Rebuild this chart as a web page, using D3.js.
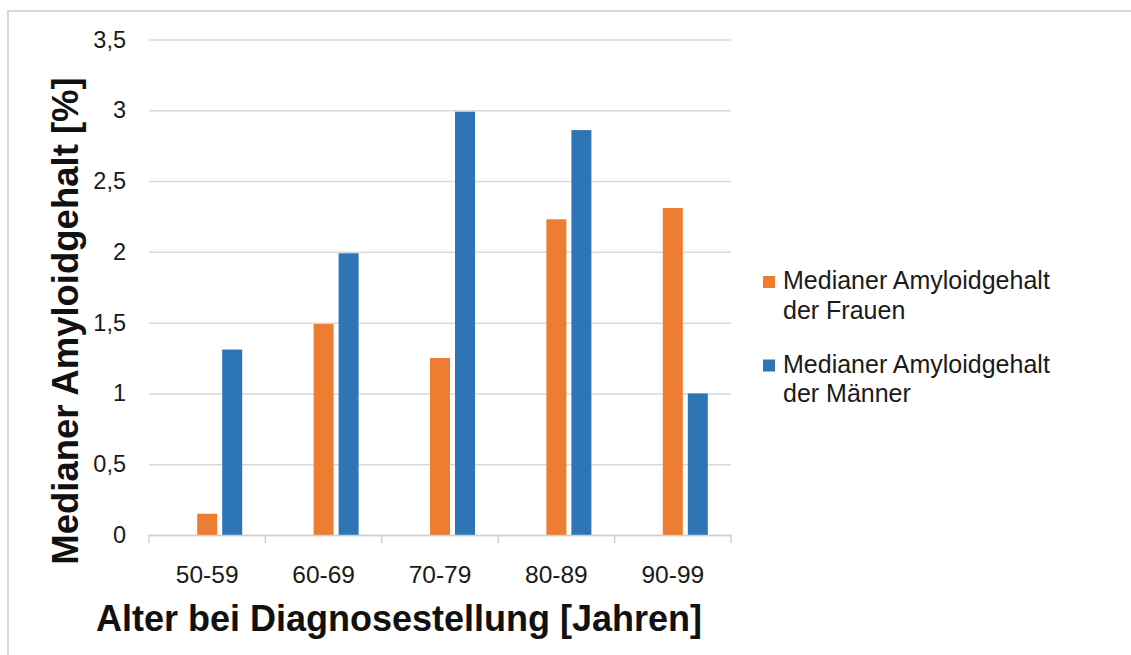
<!DOCTYPE html>
<html>
<head>
<meta charset="utf-8">
<script src="https://cdn.jsdelivr.net/npm/d3@7"></script>
<style>
  html, body { margin: 0; padding: 0; background: #fff; }
  svg { display: block; font-family: "Liberation Sans", Arial, sans-serif; }
</style>
</head>
<body>
<svg id="chart" width="1131" height="655"></svg>
<script>
// ---- data ----
const categories = ["50-59", "60-69", "70-79", "80-89", "90-99"];
const frauen = [0.15, 1.49, 1.25, 2.23, 2.31];
const maenner = [1.31, 1.99, 2.99, 2.86, 1.00];
const seriesKeys = ["", "Frauen", "Männer"]; // first slot is an empty series in the original
const seriesNames = ["Medianer Amyloidgehalt der Frauen", "Medianer Amyloidgehalt der Männer"];
const yTicks = [0, 0.5, 1, 1.5, 2, 2.5, 3, 3.5];
const xTitle = "Alter bei Diagnosestellung [Jahren]";
const yTitle = "Medianer Amyloidgehalt [%]";

(function () {
const colors = { "Frauen": "#ED7D31", "Männer": "#2E75B6" };
const svg = d3.select("#chart");

// outer frame (only top and left edges visible)
svg.append("path").attr("d", "M8,655 L8,11 L1131,11")
  .attr("fill", "none").attr("stroke", "#d9d9d9").attr("stroke-width", 2);

const pLeft = 149, pRight = 731, pBottom = 535, pTop = 39.5;

const x0 = d3.scaleBand().domain(categories).range([pLeft, pRight]).padding(0);
const half = 35;
const x1 = d3.scaleBand().domain(seriesKeys)
  .range([x0.bandwidth() / 2 - half, x0.bandwidth() / 2 + half])
  .paddingInner(0.2).paddingOuter(0);
const y = d3.scaleLinear().domain([0, 3.5]).range([pBottom, pTop]);

// gridlines + y labels
const yAxis = svg.append("g").attr("transform", `translate(${pLeft},0)`)
  .call(d3.axisLeft(y).tickValues(yTicks).tickSize(-(pRight - pLeft)).tickPadding(23)
    .tickFormat(d => String(d).replace(".", ",")));
yAxis.select(".domain").remove();
yAxis.selectAll(".tick line").attr("stroke", "#d9d9d9").attr("stroke-width", 1.5);
yAxis.selectAll(".tick text").attr("fill", "#1a1a1a").style("font-size", "23.5px")
  .style("font-family", "'Liberation Sans', Arial, sans-serif");

// bars
const data = categories.map((c, i) => ({ cat: c, Frauen: frauen[i], "Männer": maenner[i] }));
const groups = svg.append("g").selectAll("g").data(data).join("g")
  .attr("transform", d => `translate(${x0(d.cat)},0)`);
groups.selectAll("rect")
  .data(d => ["Frauen", "Männer"].map(k => ({ key: k, value: d[k] })))
  .join("rect")
  .attr("x", d => x1(d.key))
  .attr("width", x1.bandwidth())
  .attr("y", d => y(d.value))
  .attr("height", d => y(0) - y(d.value))
  .attr("fill", d => colors[d.key]);

// x axis
const xAxis = svg.append("g").attr("transform", `translate(0,${pBottom})`)
  .call(d3.axisBottom(x0).tickSize(0).tickPadding(31));
xAxis.select(".domain").attr("stroke", "#d0d0d0").attr("stroke-width", 1.5);
xAxis.selectAll(".tick text").attr("fill", "#1a1a1a").style("font-size", "24.5px")
  .style("font-family", "'Liberation Sans', Arial, sans-serif");
const boundaries = categories.map(c => x0(c)).concat([x0.range()[1]]);
xAxis.selectAll("line.bound").data(boundaries).join("line").attr("class", "bound")
  .attr("x1", d => d).attr("x2", d => d).attr("y1", 0).attr("y2", 8)
  .attr("stroke", "#d0d0d0").attr("stroke-width", 1.5);

// axis titles
svg.append("text").attr("x", 399).attr("y", 631).attr("text-anchor", "middle")
  .style("font-size", "36px").style("font-weight", "bold").attr("fill", "#111").text(xTitle);
svg.append("text").attr("transform", "translate(78,321) rotate(-90)").attr("text-anchor", "middle")
  .style("font-size", "36.5px").style("font-weight", "bold").attr("fill", "#111").text(yTitle);

// legend
const legendKeys = ["Frauen", "Männer"];
const legend = svg.append("g");
legendKeys.forEach((k, i) => {
  const baseY = 289 + i * 83.5;
  legend.append("rect").attr("x", 763).attr("y", baseY - 13).attr("width", 12).attr("height", 12)
    .attr("fill", colors[k]);
  const words = seriesNames[i].split(" ");
  const lines = [words.slice(0, 2).join(" "), words.slice(2).join(" ")];
  const t = legend.append("text").attr("x", 783).attr("y", baseY).attr("fill", "#1a1a1a")
    .style("font-size", "25px");
  lines.forEach((ln, j) => t.append("tspan").attr("x", 783).attr("y", baseY + j * 29.5).text(ln));
});
})();
</script>
</body>
</html>
